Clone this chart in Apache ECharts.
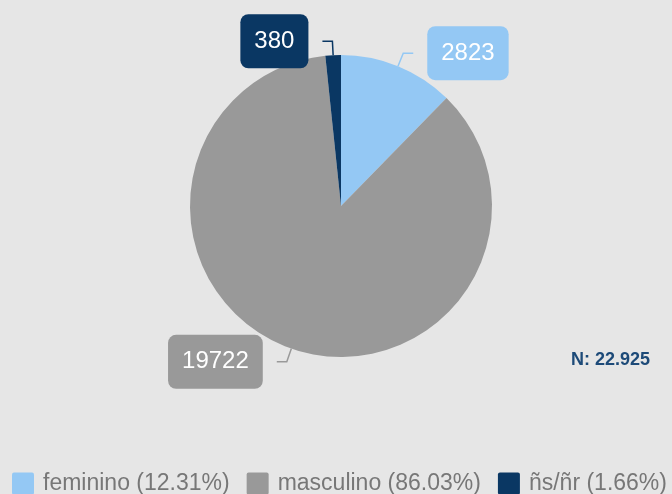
<!DOCTYPE html>
<html>
<head>
<meta charset="utf-8">
<script src="https://cdn.jsdelivr.net/npm/echarts@6/dist/echarts.min.js"></script>
<style>
  html, body { margin: 0; padding: 0; background: #e6e6e6; }
  #chart { width: 672px; height: 494px; }
</style>
</head>
<body>
<div id="chart"></div>
<script>
// datos
var categorias = ['feminino', 'masculino', 'ñs/ñr']
var valores = [2823, 19722, 380]
var colores = ['#94c8f4', '#999999', '#0a3763']
var textoN = 'N: 22.925'

var total = valores.reduce(function (a, b) { return a + b }, 0)

var chart = echarts.init(document.getElementById('chart'))
chart.setOption({
  backgroundColor: '#e6e6e6',
  animation: false,
  title: {
    text: textoN,
    left: 571,
    top: 351,
    padding: 0,
    textStyle: {
      fontFamily: 'Liberation Sans',
      fontSize: 18,
      fontWeight: 'bold',
      color: '#1d4a78'
    }
  },
  legend: {
    left: 12,
    top: 472,
    padding: 0,
    itemWidth: 22,
    itemHeight: 22,
    itemGap: 17,
    icon: 'path://M2,0 L20,0 Q22,0 22,2 L22,20 Q22,22 20,22 L2,22 Q0,22 0,20 L0,2 Q0,0 2,0 Z',
    textStyle: {
      fontFamily: 'Liberation Sans',
      fontSize: 23,
      color: '#777777',
      padding: [0, 0, 0, 4]
    },
    formatter: function (name) {
      var i = categorias.indexOf(name)
      return name + ' (' + (valores[i] / total * 100).toFixed(2) + '%)'
    }
  },
  series: [
    {
      type: 'pie',
      center: [341, 206],
      radius: 151,
      startAngle: 90,
      clockwise: true,
      avoidLabelOverlap: false,
      label: {
        show: true,
        position: 'outside',
        formatter: '{c}',
        fontFamily: 'Liberation Sans',
        fontSize: 24,
        color: '#ffffff',
        padding: [15, 14],
        borderRadius: 8,
        distanceToLabelLine: 14
      },
      labelLine: {
        show: true,
        length: 14,
        length2: 10,
        lineStyle: { width: 1.5 }
      },
      data: categorias.map(function (c, i) {
        return {
          name: c,
          value: valores[i],
          itemStyle: { color: colores[i] },
          label: { backgroundColor: colores[i] }
        }
      })
    }
  ]
})
</script>
</body>
</html>
